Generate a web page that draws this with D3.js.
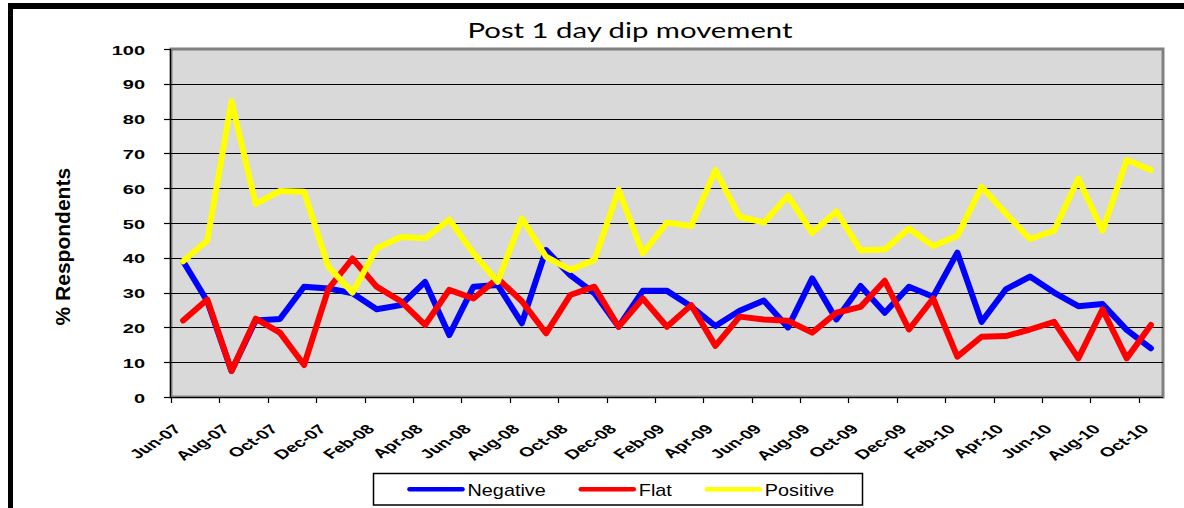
<!DOCTYPE html>
<html>
<head>
<meta charset="utf-8">
<script src="https://cdn.jsdelivr.net/npm/d3@7"></script>
<style>
  body { margin: 0; background: #fff; }
  text { font-family: "Liberation Sans", Arial, sans-serif; }
</style>
</head>
<body>
<svg width="1184" height="508"></svg>
<script>
// months on the category axis
const months = [
  'Jun-07','Jul-07','Aug-07','Sep-07','Oct-07','Nov-07','Dec-07',
  'Jan-08','Feb-08','Mar-08','Apr-08','May-08','Jun-08','Jul-08','Aug-08','Sep-08','Oct-08','Nov-08','Dec-08',
  'Jan-09','Feb-09','Mar-09','Apr-09','May-09','Jun-09','Jul-09','Aug-09','Sep-09','Oct-09','Nov-09','Dec-09',
  'Jan-10','Feb-10','Mar-10','Apr-10','May-10','Jun-10','Jul-10','Aug-10','Sep-10','Oct-10'
];
const negative = [39, 27.5, 7.5, 22, 22.4, 31.7, 31.2, 29.8, 25.2, 26.4,
  33.1, 17.8, 31.7, 32.2, 21.2, 42.2, 35, 29.8, 20.2, 30.5,
  30.5, 26, 20.4, 24.8, 27.7, 20, 34.1, 22.3, 31.9, 24.2,
  31.7, 28.8, 41.5, 21.6, 30.9, 34.6, 30, 26.1, 26.7, 19.3, 14];
const flat = [22, 28, 7.5, 22.5, 18.5, 9.2, 31, 39.8, 31.7, 27.5,
  20.7, 30.8, 28.3, 34.1, 27.5, 18.3, 29.3, 31.7, 20.2, 28.3,
  20.2, 26.4, 14.7, 23.1, 22.3, 21.9, 18.5, 24.2, 25.9, 33.4,
  19.4, 28.3, 11.6, 17.3, 17.5, 19.4, 21.6, 11.1, 25.2, 11.1, 20.7];
const positive = [39, 45, 85, 55.5, 59.2, 59, 37.5, 30, 42.7, 46,
  45.6, 51, 41.3, 33.1, 51.3, 40.3, 36.5, 39.4, 59.5, 41.3,
  50.1, 49.1, 65.2, 51.8, 50.1, 57.8, 47.2, 53.3, 42.2, 42.4,
  48.4, 43.4, 46.3, 60.4, 52.8, 45.4, 47.8, 62.8, 47.8, 68.1, 65.2];
const yTicks = [0, 10, 20, 30, 40, 50, 60, 70, 80, 90, 100];
const seriesNames = ['Negative', 'Flat', 'Positive'];
const seriesColors = ['#0000ff', '#ff0000', '#ffff00'];

const series = seriesNames.map((name, i) => ({
  name,
  color: seriesColors[i],
  values: [negative, flat, positive][i]
}));

const svg = d3.select('svg');
const plot = {left: 171, right: 1163, top: 49, bottom: 397};

const x = d3.scaleBand().domain(months).range([plot.left, plot.right]);
const y = d3.scaleLinear().domain([0, 100]).range([plot.bottom, plot.top]);
const mid = m => x(m) + x.bandwidth() / 2;

// outer frame (top and left bars)
svg.append('rect').attr('x', 8).attr('y', 3).attr('width', 1176).attr('height', 6).attr('fill', '#000');
svg.append('rect').attr('x', 8).attr('y', 3).attr('width', 5).attr('height', 505).attr('fill', '#000');

// title
svg.append('text')
    .attr('x', 630).attr('y', 38)
    .attr('text-anchor', 'middle')
    .attr('textLength', 325).attr('lengthAdjust', 'spacingAndGlyphs')
    .style('font-family', 'Lato, "Open Sans", sans-serif')
    .style('font-size', '21px')
    .text('Post 1 day dip movement');

// plot area
svg.append('rect')
    .attr('x', plot.left).attr('y', plot.top)
    .attr('width', plot.right - plot.left).attr('height', plot.bottom - plot.top)
    .attr('fill', '#d9d9d9').attr('stroke', '#808080').attr('stroke-width', 3);

svg.append('g').selectAll('line')
  .data(yTicks.filter(d => d > 0 && d < 100))
  .enter().append('line')
    .attr('x1', plot.left).attr('x2', plot.right)
    .attr('y1', d => Math.round(y(d)) + 0.5).attr('y2', d => Math.round(y(d)) + 0.5)
    .attr('stroke', '#000').attr('stroke-width', 1.2);

// y axis
const yAxisG = svg.append('g');
yAxisG.append('line')
    .attr('x1', plot.left - 0.5).attr('x2', plot.left - 0.5)
    .attr('y1', plot.top).attr('y2', plot.bottom)
    .attr('stroke', '#000').attr('stroke-width', 1.2);
yAxisG.selectAll('line.tick').data(yTicks).enter().append('line')
    .attr('class', 'tick')
    .attr('x1', plot.left - 7).attr('x2', plot.left)
    .attr('y1', d => Math.round(y(d)) + 0.5).attr('y2', d => Math.round(y(d)) + 0.5)
    .attr('stroke', '#000').attr('stroke-width', 1.2);
yAxisG.selectAll('text').data(yTicks).enter().append('text')
    .attr('transform', d => `translate(145, ${y(d) + 5.5}) scale(1.6, 1)`)
    .attr('text-anchor', 'end')
    .style('font-size', '12.5px').style('font-weight', 'bold')
    .text(d => d);

svg.append('text')
    .attr('transform', 'translate(69.5, 246.7) rotate(-90)')
    .attr('text-anchor', 'middle')
    .style('font-size', '21px').style('font-weight', 'bold')
    .text('% Respondents');

// x axis
const xAxisG = svg.append('g');
xAxisG.append('line')
    .attr('x1', plot.left - 1).attr('x2', plot.right)
    .attr('y1', plot.bottom + 0.5).attr('y2', plot.bottom + 0.5)
    .attr('stroke', '#000').attr('stroke-width', 1.2);
const labelled = months.filter((m, i) => i % 2 === 0);
xAxisG.selectAll('line.tick').data(labelled).enter().append('line')
    .attr('class', 'tick')
    .attr('x1', d => Math.round(x(d)) + 0.5).attr('x2', d => Math.round(x(d)) + 0.5)
    .attr('y1', plot.bottom).attr('y2', plot.bottom + 6)
    .attr('stroke', '#000').attr('stroke-width', 1.2);
xAxisG.selectAll('text').data(labelled).enter().append('text')
    .attr('transform', d => `translate(${mid(d) - 1}, 430) scale(1.5, 1) rotate(-45)`)
    .attr('text-anchor', 'end')
    .style('font-size', '13px').style('font-weight', 'bold')
    .text(d => d);

// lines
const line = d3.line()
    .x((d, i) => mid(months[i]))
    .y(d => y(d));

svg.append('g').selectAll('path').data(series).enter().append('path')
    .attr('d', d => line(d.values))
    .attr('fill', 'none')
    .attr('stroke', d => d.color)
    .attr('stroke-width', 6)
    .attr('stroke-linejoin', 'round')
    .attr('stroke-linecap', 'round');

// legend
const legendG = svg.append('g');
legendG.append('rect')
    .attr('x', 373.5).attr('y', 473.5).attr('width', 489).attr('height', 31.5)
    .attr('fill', '#fff').attr('stroke', '#000').attr('stroke-width', 1.5);

let lx = 409.5;
series.forEach(s => {
  legendG.append('line')
      .attr('x1', lx).attr('x2', lx + 53)
      .attr('y1', 489.3).attr('y2', 489.3)
      .attr('stroke', s.color).attr('stroke-width', 4.5)
      .attr('stroke-linecap', 'round');
  const t = legendG.append('text')
      .attr('transform', `translate(${lx + 58}, 495.5) scale(1.24, 1)`)
      .style('font-size', '16px')
      .text(s.name);
  lx += 58 + t.node().getComputedTextLength() * 1.24 + 35;
});
</script>
</body>
</html>
